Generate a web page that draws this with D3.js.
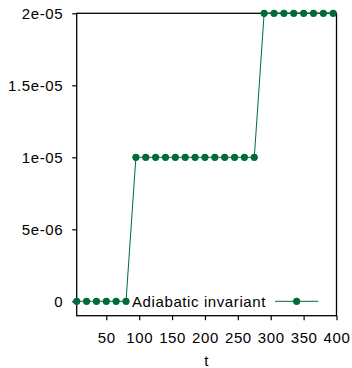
<!DOCTYPE html>
<html>
<head>
<meta charset="utf-8">
<script src="https://cdn.jsdelivr.net/npm/d3@7"></script>
<style>
  html, body { margin: 0; padding: 0; background: #fff; }
  svg { display: block; }
  text { font-family: "Liberation Sans", Arial, Helvetica, sans-serif; fill: #000; letter-spacing: 0.6px; }
</style>
</head>
<body>
<svg id="chart" width="352" height="368"></svg>
<script>
// Time samples of the run
const tValues = [5, 20, 35, 50, 65, 80, 95, 110, 125, 140, 155, 170, 185, 200,
                 215, 230, 245, 260, 275, 290, 305, 320, 335, 350, 365, 380, 395];
// Adiabatic invariant at each sample
const invariant = [0, 0, 0, 0, 0, 0,
                   1e-5, 1e-5, 1e-5, 1e-5, 1e-5, 1e-5, 1e-5, 1e-5, 1e-5, 1e-5, 1e-5, 1e-5, 1e-5,
                   2e-5, 2e-5, 2e-5, 2e-5, 2e-5, 2e-5, 2e-5, 2e-5];
const xTicks = [50, 100, 150, 200, 250, 300, 350, 400];
const yTicks = [0, 5e-6, 1e-5, 1.5e-5, 2e-5];
const yTickLabels = ["0", "5e-06", "1e-05", "1.5e-05", "2e-05"];
const seriesName = "Adiabatic invariant";
const xLabel = "t";

const color = "#006b3a";
const fontSize = 15;

const svg = d3.select("#chart");
const plotLeft = 76.7, plotRight = 336.5, plotTop = 13.3, plotBottom = 315.7;

const x = d3.scaleLinear().domain([5, 400]).range([plotLeft, plotRight]);
const y = d3.scaleLinear().domain([-1e-6, 2e-5]).range([plotBottom, plotTop]);

// Axes: ticks point outward, labels in the default sans face
const xAxis = d3.axisBottom(x).tickValues(xTicks).tickSize(4.5).tickPadding(12)
  .tickFormat(d3.format("d"));
const yAxis = d3.axisLeft(y).tickValues(yTicks).tickSize(4.5).tickPadding(9)
  .tickFormat((d, i) => yTickLabels[i]);

const gx = svg.append("g").attr("transform", `translate(0,${plotBottom})`).call(xAxis);
const gy = svg.append("g").attr("transform", `translate(${plotLeft},0)`).call(yAxis);
[gx, gy].forEach(g => {
  g.select(".domain").remove();
  g.selectAll(".tick line").attr("stroke", "#000").attr("stroke-width", 1.2);
  g.selectAll(".tick text").style("font-size", fontSize + "px")
    .style("font-family", '"Liberation Sans", Arial, sans-serif');
});

// Frame around the plot area
svg.append("rect")
  .attr("x", plotLeft).attr("y", plotTop)
  .attr("width", plotRight - plotLeft).attr("height", plotBottom - plotTop)
  .attr("fill", "none").attr("stroke", "#000").attr("stroke-width", 1.3);

const data = tValues.map((t, i) => ({ t, v: invariant[i] }));

svg.append("path")
  .datum(data)
  .attr("fill", "none")
  .attr("stroke", color)
  .attr("stroke-width", 1)
  .attr("d", d3.line().x(d => x(d.t)).y(d => y(d.v)));

svg.append("g").selectAll("circle")
  .data(data)
  .join("circle")
  .attr("cx", d => x(d.t))
  .attr("cy", d => y(d.v))
  .attr("r", 3.6)
  .attr("fill", color);

// Legend in the lower-right corner
const legY = y(0);
const legLineX0 = 275, legLineX1 = 318.3;
svg.append("text")
  .attr("x", legLineX0 - 9).attr("y", legY)
  .attr("dy", "0.35em")
  .attr("text-anchor", "end")
  .style("font-size", fontSize + "px")
  .text(seriesName);
svg.append("line")
  .attr("x1", legLineX0).attr("x2", legLineX1)
  .attr("y1", legY).attr("y2", legY)
  .attr("stroke", color).attr("stroke-width", 1);
svg.append("circle")
  .attr("cx", (legLineX0 + legLineX1) / 2).attr("cy", legY)
  .attr("r", 3.6).attr("fill", color);

// Axis title
svg.append("text")
  .attr("x", (plotLeft + plotRight) / 2).attr("y", 366)
  .attr("text-anchor", "middle")
  .style("font-size", fontSize + "px")
  .text(xLabel);
</script>
</body>
</html>
